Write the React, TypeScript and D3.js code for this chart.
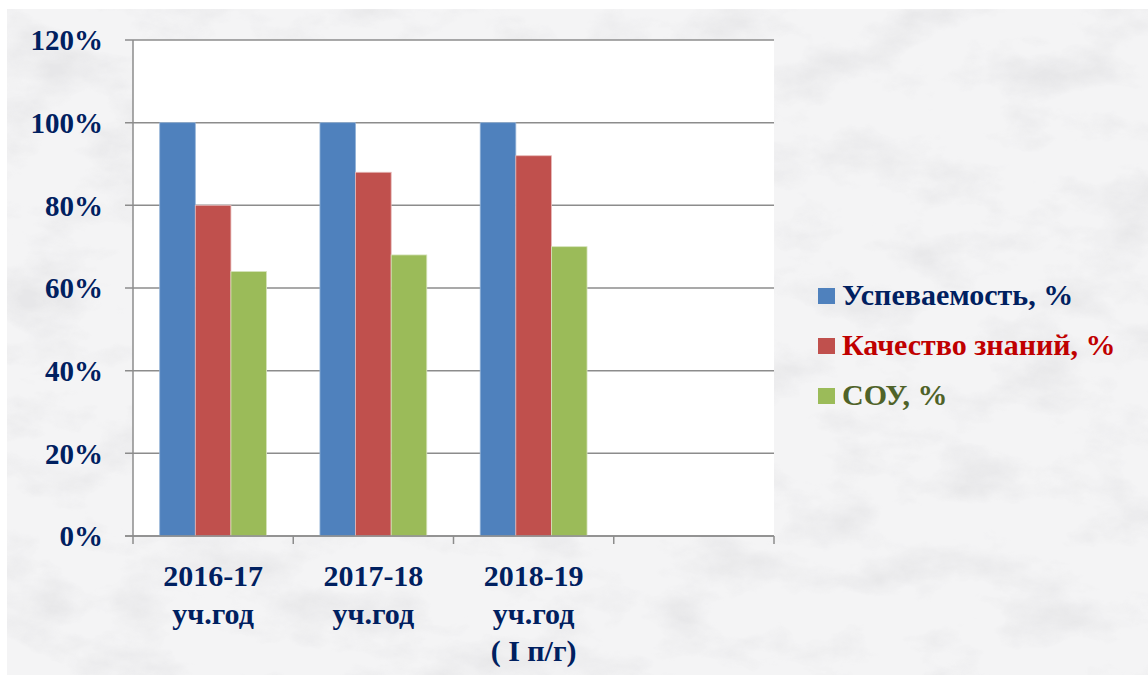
import React, { useEffect, useRef } from 'react';
import * as d3 from 'd3';

// chart data
const categories = ['2016-17|уч.год', '2017-18|уч.год', '2018-19|уч.год|( I п/г)', ''];
const seriesNames = ['Успеваемость, %', 'Качество знаний, %', 'СОУ, %'];
const uspevaemost = [100, 100, 100];
const kachestvo = [80, 88, 92];
const sou = [64, 68, 70];
const yTicks = [0, 20, 40, 60, 80, 100, 120];

const barColors = ['#4F81BD', '#C0504D', '#9BBB59'];
const barEdges = ['#95B3D7', '#E6B9B8', '#D7E4BD'];
const textColors = ['#002060', '#C00000', '#4F6228'];

const App: React.FC = () => {
    const chartRef = useRef<SVGSVGElement>(null);

    useEffect(() => {
        const width = 1148;
        const height = 675;
        const left = 133, right = 774, top = 40, bottom = 536;
        const font = "'Liberation Serif', 'Times New Roman', Tinos, 'Noto Serif', 'DejaVu Serif', FreeSerif, serif";

        const svg = d3.select(chartRef.current);
        svg.selectAll('*').remove();
        svg.attr('width', width).attr('height', height);

        // marble-ish background
        const defs = svg.append('defs');
        const f = defs.append('filter').attr('id', 'marble')
            .attr('x', 0).attr('y', 0).attr('width', '100%').attr('height', '100%');
        f.append('feTurbulence')
            .attr('type', 'fractalNoise')
            .attr('baseFrequency', '0.012 0.022')
            .attr('numOctaves', 5)
            .attr('seed', 3)
            .attr('result', 'noise');
        f.append('feColorMatrix')
            .attr('in', 'noise')
            .attr('type', 'matrix')
            .attr('values', '0 0 0 0 0.62  0 0 0 0 0.62  0 0 0 0 0.64  2.6 0 0 0 -1.2')
            .attr('result', 'veins');
        f.append('feComposite').attr('in', 'veins').attr('in2', 'SourceGraphic').attr('operator', 'in');

        svg.append('rect').attr('width', width).attr('height', height).attr('fill', '#ffffff');
        svg.append('rect').attr('x', 7).attr('y', 9).attr('width', width - 7).attr('height', height - 9)
            .attr('fill', '#f4f4f5');
        svg.append('rect').attr('x', 7).attr('y', 9).attr('width', width - 7).attr('height', height - 9)
            .attr('fill', '#ffffff').attr('opacity', 0.32).attr('filter', 'url(#marble)');

        // scales
        const x0 = d3.scaleBand<string>().domain(categories).range([left, right]).padding(0);
        const x1 = d3.scaleBand<string>().domain(seriesNames).range([0, x0.bandwidth()])
            .paddingInner(0).paddingOuter(0.75);
        const y = d3.scaleLinear().domain([0, 120]).range([bottom, top]);

        // plot area
        svg.append('rect').attr('x', left).attr('y', top)
            .attr('width', right - left).attr('height', bottom - top).attr('fill', '#ffffff');

        // gridlines and y ticks
        const grid = svg.append('g');
        yTicks.forEach(t => {
            grid.append('line')
                .attr('x1', left - 8).attr('x2', right)
                .attr('y1', y(t)).attr('y2', y(t))
                .attr('stroke', '#8c8c8c').attr('stroke-width', 1.5);
            svg.append('text')
                .attr('x', 103).attr('y', y(t)).attr('dy', '0.36em')
                .attr('text-anchor', 'end')
                .attr('font-family', font).attr('font-weight', 'bold').attr('font-size', 29)
                .attr('fill', '#002060')
                .text(`${t}%`);
        });

        // bars
        const values = [uspevaemost, kachestvo, sou];
        seriesNames.forEach((s, si) => {
            svg.append('g').selectAll('rect')
                .data(values[si])
                .enter()
                .append('rect')
                .attr('x', (d, i) => (x0(categories[i]) as number) + (x1(s) as number))
                .attr('y', d => y(d))
                .attr('width', x1.bandwidth())
                .attr('height', d => bottom - y(d))
                .attr('fill', barColors[si])
                .attr('stroke', barEdges[si])
                .attr('stroke-width', 0.8);
        });

        // axes lines
        svg.append('line').attr('x1', left).attr('x2', left).attr('y1', top).attr('y2', bottom)
            .attr('stroke', '#8c8c8c').attr('stroke-width', 1.5);
        svg.append('line').attr('x1', left - 8).attr('x2', right).attr('y1', bottom).attr('y2', bottom)
            .attr('stroke', '#8c8c8c').attr('stroke-width', 1.5);
        const bounds = categories.map(c => x0(c) as number).concat([right]);
        bounds.forEach(b => {
            svg.append('line').attr('x1', b).attr('x2', b).attr('y1', bottom).attr('y2', bottom + 8)
                .attr('stroke', '#8c8c8c').attr('stroke-width', 1.5);
        });

        // category labels
        categories.forEach(c => {
            const lines = c ? c.split('|') : [];
            const cx = (x0(c) as number) + x0.bandwidth() / 2;
            const t = svg.append('text')
                .attr('text-anchor', 'middle')
                .attr('font-family', font).attr('font-weight', 'bold').attr('font-size', 30)
                .attr('fill', '#002060');
            lines.forEach((ln, i) => {
                t.append('tspan').attr('x', cx).attr('y', 586 + i * 37.5).text(ln);
            });
        });

        // legend
        seriesNames.forEach((s, i) => {
            const by = 305 + i * 50;
            svg.append('rect').attr('x', 818).attr('y', by - 17).attr('width', 17).attr('height', 16)
                .attr('fill', barColors[i]);
            svg.append('text')
                .attr('x', 842).attr('y', by)
                .attr('font-family', font).attr('font-weight', 'bold').attr('font-size', 30)
                .attr('fill', textColors[i])
                .text(s);
        });
    }, []);

    return (
        <div style={{ position: 'absolute', left: 0, top: 0 }}>
            <svg ref={chartRef}></svg>
        </div>
    );
};

export default App;
